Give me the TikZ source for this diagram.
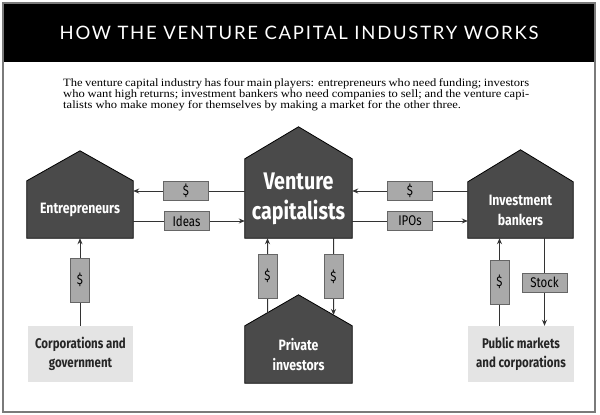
\documentclass[tikz,border=0pt]{standalone}
\usepackage{fontspec}
\setmainfont{Liberation Serif}[FakeStretch=1.12]
\newfontfamily\labelfont[FakeStretch=0.82]{Fira Sans}
\newfontfamily\titlefont[LetterSpace=9.5]{Lato}
\usetikzlibrary{arrows.meta}
\pgfdeclarelayer{back}
\pgfdeclarelayer{lines}
\pgfsetlayers{back,lines,main}

\definecolor{housegray}{HTML}{4A4A4A}
\definecolor{tabgray}{HTML}{A9A9A9}
\definecolor{boxgray}{HTML}{E4E4E4}
\definecolor{linegray}{HTML}{333333}
\definecolor{framegray}{HTML}{7A7A7A}

\tikzset{
  house/.style={minimum width=106pt, minimum height=57pt, inner sep=0pt, text=white, align=center,
    font=\labelfont\bfseries\fontsize{15}{20}\selectfont},
  roof/.style={fill=housegray, draw=black, line width=0.8pt},
  tab/.style={fill=tabgray, draw=gray!80!black, line width=0.4pt, inner sep=0pt, text=black,
    font=\labelfont\fontsize{14}{14}\selectfont},
  htab/.style={tab, minimum width=45pt, minimum height=19pt},
  vtab/.style={tab, minimum width=19pt, minimum height=44pt},
  market/.style={fill=boxgray, minimum width=106pt, minimum height=56pt, inner sep=0pt, align=center,
    text=black!85, font=\labelfont\bfseries\fontsize{14}{19}\selectfont},
  flow/.style={draw=linegray, line width=1pt, -{Stealth[length=6pt,width=5pt]}},
}

\begin{document}
\begin{tikzpicture}[x=1pt, y=-1pt]
  \useasboundingbox (0,0) rectangle (600,415);
  % title and intro
  \fill[black] (3,3) rectangle (595,62);
  \draw[framegray, line width=1.5pt] (3,3) rectangle (595,412);
  \node[text=white, font=\titlefont\fontsize{18.5}{18.5}\selectfont] (title) at (299,32.5)
    {HOW THE VENTURE CAPITAL INDUSTRY WORKS};
  \node[anchor=north west, inner sep=0pt, align=left, text=black,
    font=\fontsize{11.2}{11.3}\selectfont] (intro) at (63,78)
    {\makebox[466pt][s]{The venture capital industry has four main players: entrepreneurs who need funding; investors}\\
     \makebox[466pt][s]{who want high returns; investment bankers who need companies to sell; and the venture capi-}\\
     talists who make money for themselves by making a market for the other three.};

  % the four houses
  \node[house] (ent) at (80,209.5) {Entrepreneurs};
  \node[house, minimum width=107pt, minimum height=79pt, font=\labelfont\bfseries\fontsize{24}{30}\selectfont]
    (vc) at (298.5,198.5) {Venture\\capitalists};
  \node[house, minimum width=105pt, minimum height=56pt] (ib) at (520.5,210) {Investment\\bankers};
  \node[house, minimum width=107pt] (pi) at (298.5,354.5) {Private\\investors};
  \coordinate (pitop) at ([yshift=31]pi.north);

  % markets
  \node[market, minimum width=105pt] (corp) at (80.5,354) {Corporations and\\government};
  \node[market] (pm) at (521,354) {Public markets\\and corporations};

  % tabs on the flows
  \node[htab] (dolE) at (186,191) {\$};
  \node[htab] (ideas) at (186.5,221) {Ideas};
  \node[htab] (dolI) at (410,191) {\$};
  \node[htab] (ipos) at (410,221) {IPOs};
  \node[vtab] (dolC) at (80,280) {\$};
  \node[vtab] (dolP) at (267.5,276) {\$};
  \node[vtab] (dolV) at (333.5,276.5) {\$};
  \node[vtab] (dolM) at (499.5,282) {\$};
  \node[htab] (stock) at (544.5,282.5) {Stock};

  \begin{pgfonlayer}{back}
    \fill[white] (0,0) rectangle (600,415);
    \foreach \h/\r in {ent/30, vc/32, ib/32, pi/31}
      \draw[roof] (\h.south west) -- (\h.north west) -- ([yshift=\r]\h.north)
        -- (\h.north east) -- (\h.south east) -- cycle;
  \end{pgfonlayer}

  \begin{pgfonlayer}{lines}
    \draw[flow] (vc.west |- dolE) -- (ent.east |- dolE);
    \draw[flow] (ent.east |- ideas) -- (vc.west |- ideas);
    \draw[flow] (ib.west |- dolI) -- (vc.east |- dolI);
    \draw[flow] (vc.east |- ipos) -- (ib.west |- ipos);
    \draw[flow] (corp.north -| dolC) -- (ent.south -| dolC);
    \draw[flow] (intersection of pi.north west--pitop and dolP.south--dolP.north) -- (vc.south -| dolP);
    \draw[flow] (vc.south -| dolV) -- (intersection of pitop--pi.north east and dolV.south--dolV.north);
    \draw[flow] (pm.north -| dolM) -- (ib.south -| dolM);
    \draw[flow] (ib.south -| stock) -- (pm.north -| stock);
  \end{pgfonlayer}
\end{tikzpicture}
\end{document}
